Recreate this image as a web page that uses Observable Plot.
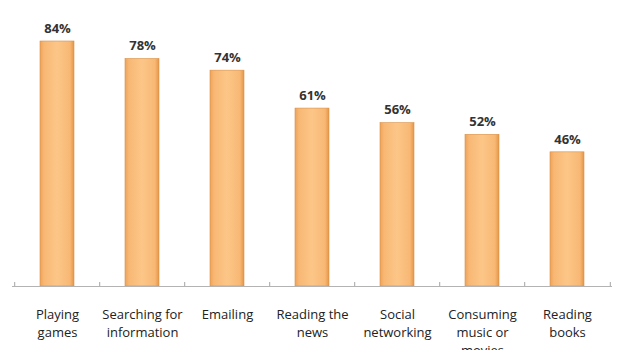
<!DOCTYPE html>
<html>
<head>
<meta charset="utf-8">
<script src="https://cdn.jsdelivr.net/npm/d3@7"></script>
<script src="https://cdn.jsdelivr.net/npm/@observablehq/plot@0.6"></script>
<style>
  body { margin: 0; background: #fff; }
  #chart { width: 620px; height: 350px; overflow: hidden; }
</style>
</head>
<body>
<div id="chart"></div>
<script>
const categories = ["Playing games", "Searching for information", "Emailing", "Reading the news", "Social networking", "Consuming music or movies", "Reading books"];
const tickLabels = ["Playing\ngames", "Searching for\ninformation", "Emailing", "Reading the\nnews", "Social\nnetworking", "Consuming\nmusic or\nmovies", "Reading\nbooks"];
const values = [84, 78, 74, 61, 56, 52, 46];

const data = categories.map((c, i) => ({category: c, value: values[i], label: tickLabels[i]}));
const labelOf = new Map(data.map(d => [d.category, d.label]));

const width = 620, height = 350;
const marginLeft = 12, marginRight = 8, marginTop = 41, marginBottom = 64;
const step = (width - marginLeft - marginRight) / categories.length;

const plot = Plot.plot({
  width, height,
  marginLeft, marginRight, marginTop, marginBottom,
  style: {fontFamily: "'Open Sans', sans-serif", background: "#fff"},
  x: {domain: categories, paddingInner: 0.6, paddingOuter: 0.3, label: null},
  y: {domain: [0, 84], axis: null},
  marks: [
    Plot.barY(data, {x: "category", y: "value", fill: "url(#barGrad)", stroke: "#d98f45", strokeWidth: 0.6}),
    Plot.ruleY([0], {stroke: "#b3b3b3", strokeWidth: 1.2}),
    Plot.ruleX(data, {x: "category", y1: 0, dy: 0, dx: -step / 2, stroke: "#b3b3b3", strokeWidth: 1.2, insetTop: -4, y2: 0}),
    Plot.ruleX(data.slice(-1), {x: "category", y1: 0, y2: 0, dx: step / 2, stroke: "#b3b3b3", strokeWidth: 1.2, insetTop: -4}),
    Plot.text(data, {x: "category", y: "value", text: d => d.value + "%", dy: -13, fontWeight: "bold", fontSize: 13, fill: "#333"}),
    Plot.axisX({tickSize: 0, tickPadding: 20, tickFormat: c => labelOf.get(c), fontSize: 13, fill: "#222", lineHeight: 1.38})
  ]
});

// gradient definition for the glossy orange bars
const svg = d3.select(plot);
const defs = svg.insert("defs", ":first-child");
const g = defs.append("linearGradient").attr("id", "barGrad").attr("x1", "0").attr("x2", "1").attr("y1", "0").attr("y2", "0");
[["0%", "#eea25a"], ["12%", "#f8b874"], ["50%", "#fcc688"], ["88%", "#f8b874"], ["100%", "#e39649"]]
  .forEach(([o, c]) => g.append("stop").attr("offset", o).attr("stop-color", c));

document.getElementById("chart").appendChild(plot);
</script>
</body>
</html>
